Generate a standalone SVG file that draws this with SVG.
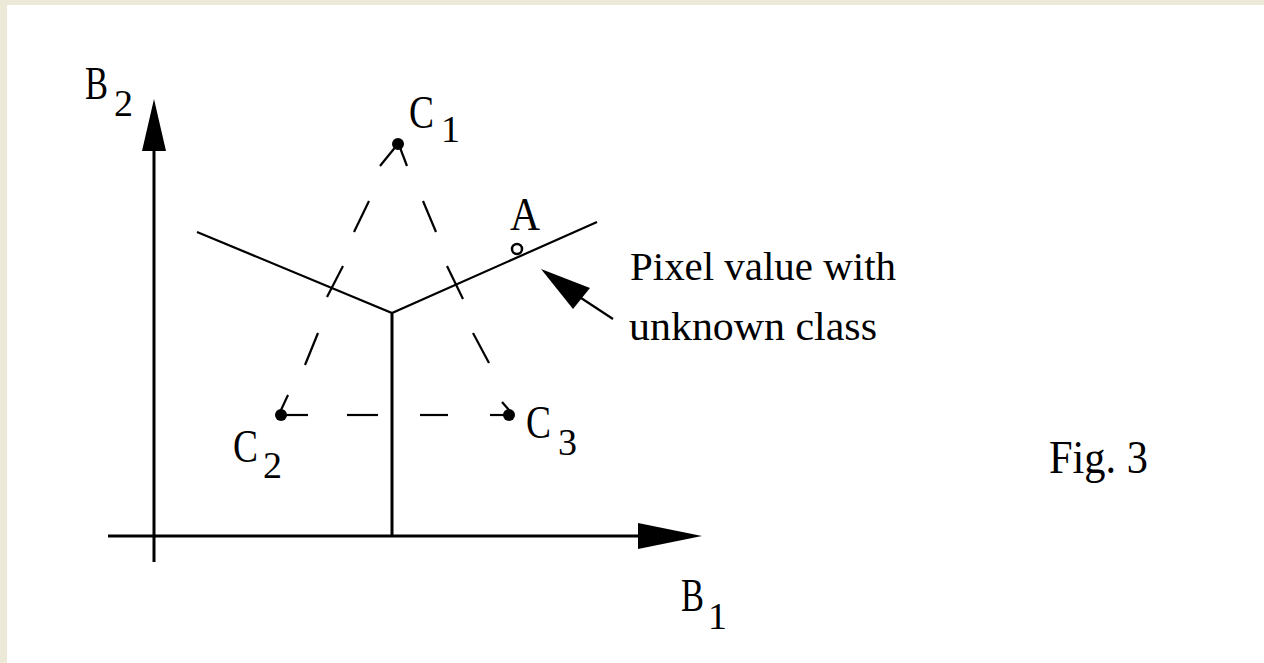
<svg xmlns="http://www.w3.org/2000/svg" width="1264" height="663" viewBox="0 0 1264 663">
<style>
.lbl{font-family:"Liberation Serif","Times New Roman",serif;font-size:47px;fill:#000}
.sub{font-family:"Liberation Serif","Times New Roman",serif;font-size:38px;fill:#000}
.txt{font-family:"Liberation Serif","Times New Roman",serif;font-size:41px;fill:#000}
.axis{stroke:#000;stroke-width:3;fill:none}
.bnd{stroke:#000;stroke-width:2.2;fill:none}
.dash{stroke:#000;stroke-width:2.2;fill:none}
</style>
<rect x="0" y="0" width="1264" height="663" fill="#ECE9D8"/>
<rect x="7" y="5" width="1257" height="658" fill="#FFFFFF"/>

<g id="axes">
  <line class="axis" x1="154" y1="140" x2="154" y2="562"/>
  <polygon points="154,99 166,151 142,151" fill="#000"/>
  <line class="axis" x1="108" y1="536" x2="660" y2="536"/>
  <polygon points="702,536 638,523 638,549" fill="#000"/>
</g>

<g id="boundaries">
  <polyline class="bnd" points="197,232 392,313 597,222"/>
  <line class="axis" x1="392" y1="313" x2="392" y2="536"/>
</g>

<g id="connectors">
  <!-- C1 to C2 -->
  <line class="dash" x1="397" y1="145" x2="380" y2="166"/>
  <line class="dash" x1="369" y1="201" x2="354" y2="232"/>
  <line class="dash" x1="343" y1="266" x2="327" y2="297"/>
  <line class="dash" x1="318" y1="333" x2="305" y2="365"/>
  <line class="dash" x1="288" y1="395" x2="281" y2="410"/>
  <!-- C1 to C3 -->
  <line class="dash" x1="399" y1="145" x2="407" y2="166"/>
  <line class="dash" x1="423" y1="201" x2="436" y2="232"/>
  <line class="dash" x1="447" y1="266" x2="463" y2="299"/>
  <line class="dash" x1="473" y1="333" x2="489" y2="363"/>
  <line class="dash" x1="502" y1="402" x2="509" y2="410"/>
  <!-- C2 to C3 -->
  <line class="dash" x1="281" y1="415" x2="308" y2="415"/>
  <line class="dash" x1="347" y1="415" x2="378" y2="415"/>
  <line class="dash" x1="420" y1="415" x2="448" y2="415"/>
  <line class="dash" x1="490" y1="415" x2="510" y2="415"/>
  <!-- pointer arrow -->
  <line class="bnd" x1="578" y1="296" x2="613" y2="319"/>
  <polygon points="541,269 590,288 573,309" fill="#000"/>
</g>

<g id="C1">
  <circle cx="398" cy="144" r="6" fill="#000"/>
  <text class="lbl" x="409" y="128" textLength="25" lengthAdjust="spacingAndGlyphs">C</text>
  <text class="sub" x="441" y="142">1</text>
</g>
<g id="C2">
  <circle cx="281" cy="415" r="6" fill="#000"/>
  <text class="lbl" x="233" y="462" textLength="25" lengthAdjust="spacingAndGlyphs">C</text>
  <text class="sub" x="263" y="478">2</text>
</g>
<g id="C3">
  <circle cx="509" cy="415" r="6" fill="#000"/>
  <text class="lbl" x="526" y="438" textLength="25" lengthAdjust="spacingAndGlyphs">C</text>
  <text class="sub" x="558" y="455">3</text>
</g>
<g id="A">
  <circle cx="517" cy="249" r="5" fill="#fff" stroke="#000" stroke-width="2.5"/>
  <text class="lbl" x="510" y="230" textLength="30" lengthAdjust="spacingAndGlyphs">A</text>
</g>
<g id="B2">
  <text class="lbl" x="85" y="99" textLength="23" lengthAdjust="spacingAndGlyphs">B</text>
  <text class="sub" x="114" y="116">2</text>
</g>
<g id="B1">
  <text class="lbl" x="681" y="611" textLength="23" lengthAdjust="spacingAndGlyphs">B</text>
  <text class="sub" x="708" y="629" font-size="36">1</text>
</g>
<g id="note">
  <text class="txt" x="630" y="280" textLength="266" lengthAdjust="spacingAndGlyphs">Pixel value with</text>
  <text class="txt" x="629" y="340" textLength="248" lengthAdjust="spacingAndGlyphs">unknown class</text>
</g>
<g id="fig">
  <text class="lbl" x="1049" y="473" textLength="99" lengthAdjust="spacingAndGlyphs">Fig. 3</text>
</g>
</svg>
